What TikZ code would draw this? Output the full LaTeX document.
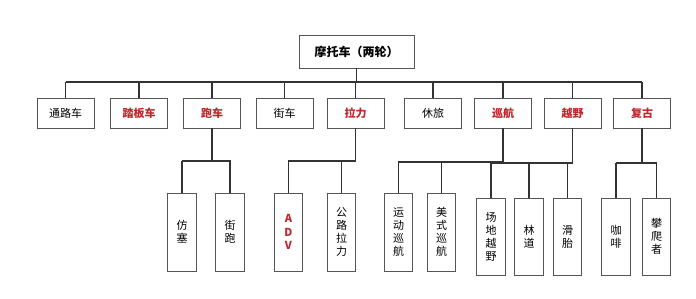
\documentclass[tikz,border=0pt]{standalone}
\usepackage{fontspec}
\setmainfont{Noto Sans CJK SC}
\definecolor{redtxt}{HTML}{C0272D}
\definecolor{linec}{HTML}{333333}
\definecolor{boxc}{HTML}{555555}
\begin{document}
\begin{tikzpicture}[x=1pt,y=-1pt,
  box/.style={draw=boxc,line width=0.9pt,fill=white,inner sep=0pt,font=\fontsize{11}{13}\selectfont},
  lone/.style={box,minimum width=57pt,minimum height=30pt},
  ltwo/.style={box,minimum width=28.5pt,minimum height=78pt,align=center},
  hot/.style={text=redtxt,font=\fontsize{11}{13}\selectfont\bfseries},
  conn/.style={draw=linec,line width=1.4pt}]
\useasboundingbox (0,0) rectangle (696,299);
% root
\node[box,minimum width=115pt,minimum height=33pt,font=\fontsize{12}{14}\selectfont\bfseries] (root) at (356.5,51.5) {摩托车（两轮）};
% level 1
\node[lone] (a1) at (65.5,113) {通路车};
\node[lone,hot] (a2) at (139,113) {踏板车};
\node[lone,hot] (a3) at (212,113) {跑车};
\node[lone] (a4) at (284.5,113) {街车};
\node[lone,hot] (a5) at (355.5,113) {拉力};
\node[lone] (a6) at (433,113) {休旅};
\node[lone,hot] (a7) at (503,113) {巡航};
\node[lone,hot] (a8) at (572.5,113) {越野};
\node[lone,hot] (a9) at (642,113) {复古};
% level 2
\node[ltwo] (b1) at (182,232) {仿\\塞};
\node[ltwo] (b2) at (230,232) {街\\跑};
\node[ltwo,hot,font=\fontsize{11}{13.5}\selectfont\bfseries] (b3) at (288.5,232) {A\\D\\V};
\node[ltwo] (b4) at (341.5,232) {公\\路\\拉\\力};
\node[ltwo] (b5) at (398.5,232) {运\\动\\巡\\航};
\node[ltwo] (b6) at (441.5,232) {美\\式\\巡\\航};
\node[ltwo,minimum height=77pt] (b7) at (491,236.5) {场\\地\\越\\野};
\node[ltwo,minimum height=77pt] (b8) at (529,236.5) {林\\道};
\node[ltwo,minimum height=77pt] (b9) at (567.5,236.5) {滑\\胎};
\node[ltwo,minimum height=77pt] (b10) at (616,236.5) {咖\\啡};
\node[ltwo,minimum height=77pt] (b11) at (656.5,236.5) {攀\\爬\\者};
% bus coordinates
\coordinate (bus) at (0,82);
\coordinate (ja) at (0,161);
\coordinate (jb) at (0,162);
\coordinate (jc) at (0,163);
% root to level 1
\draw[conn] (root.south) -- (root.south |- bus);
\draw[conn] (a1.north |- bus) -- (a9.north |- bus);
\foreach \n in {a1,a2,a3,a4,a5,a6,a7,a8,a9}
  \draw[conn] (\n.north |- bus) -- (\n.north);
% 跑车
\draw[conn] (a3.south) -- (a3.south |- ja);
\draw[conn] (b1.north |- ja) -- (b1.north) (b1.north |- ja) -- (b2.north |- ja) -- (b2.north);
% 拉力
\draw[conn] (a5.south) -- (a5.south |- ja) -- (b3.north |- ja) -- (b3.north);
\draw[conn] (b4.north |- ja) -- (b4.north);
% 巡航
\draw[conn] (a7.south) -- (a7.south |- jb) -- (b5.north |- jb) -- (b5.north);
\draw[conn] (b6.north |- jb) -- (b6.north);
% 越野
\draw[conn] (a8.south) -- (a8.south |- jc) -- (b7.north |- jc) -- (b7.north);
\draw[conn] (b8.north |- jc) -- (b8.north);
\draw[conn] (b9.north |- jc) -- (b9.north);
% 复古
\draw[conn] (a9.south) -- (a9.south |- jc);
\draw[conn] (b10.north |- jc) -- (b10.north) (b10.north |- jc) -- (b11.north |- jc) -- (b11.north);
\end{tikzpicture}
\end{document}
